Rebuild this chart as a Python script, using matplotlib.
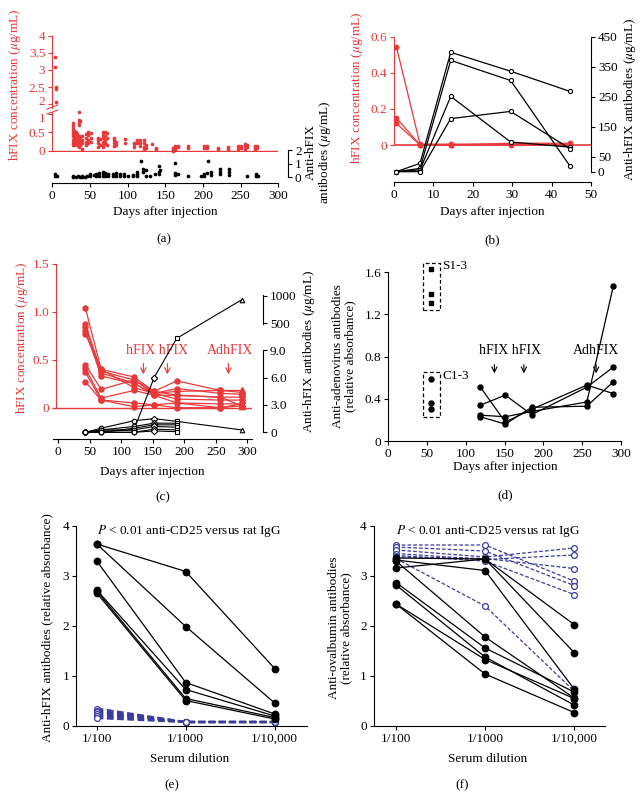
import numpy as np
import matplotlib
matplotlib.use("Agg")
import matplotlib.pyplot as plt
import matplotlib.transforms as mtransforms
from matplotlib.patches import Rectangle
from matplotlib.ticker import NullLocator

plt.rcParams['font.family'] = ['Liberation Serif', 'DejaVu Serif']
plt.rcParams['mathtext.fontset'] = 'stix'
plt.rcParams['font.size'] = 9.5

W, H = 644, 798
RED = '#e8383a'
BLUE = '#3a3d9e'
FS = 9.5

# ---------------- data: panel (a) ----------------
a_red_days = [4, 5, 27, 29, 31, 33, 35, 37, 40, 45, 48, 51, 60, 63, 67, 70, 73,
              82, 85, 97, 108, 112, 117, 122, 125, 133, 137, 160, 163, 167, 180,
              202, 205, 220, 233, 247, 250, 256, 259, 269, 272]
a_red_vals = [[3.37, 3.1], [2.5, 2.45, 2.06],
              [0.75, 0.68, 0.6, 0.5, 0.45, 0.4, 0.3, 0.2, 0.15],
              [0.55, 0.45, 0.35, 0.25, 0.15], [0.5, 0.4, 0.3, 0.2],
              [0.45, 0.35, 0.28, 0.15],
              [1.05, 0.85, 0.78, 0.7, 0.4, 0.3, 0.2, 0.1], [0.82, 0.38, 0.25, 0.15],
              [0.4, 0.3, 0.2, 0.05], [0.45, 0.35, 0.25, 0.15], [0.5, 0.42, 0.3, 0.2],
              [0.48, 0.35, 0.25], [0.35, 0.28, 0.2, 0.1], [0.32, 0.15],
              [0.5, 0.42, 0.35, 0.25, 0.15, 0.1], [0.5, 0.4, 0.3, 0.2], [0.48, 0.35, 0.15],
              [0.35, 0.28, 0.2, 0.12], [0.25, 0.15], [0.32, 0.2], [0.22, 0.18, 0.1],
              [0.28, 0.2], [0.3, 0.22, 0.12], [0.3, 0.2, 0.1, 0.05], [0.15, 0.08],
              [0.18], [0.08, 0.05], [0.08, 0.04, 0.0], [0.12, 0.06, 0.02], [0.14, 0.1],
              [0.12, 0.08], [0.12, 0.08], [0.12, 0.08], [0.08, 0.05], [0.1, 0.06],
              [0.12, 0.06], [0.14, 0.08], [0.18, 0.12, 0.06], [0.16, 0.1],
              [0.14, 0.1, 0.06], [0.12, 0.07]]
a_blk_days = [4, 6, 28, 31, 34, 37, 40, 43, 46, 50, 55, 58, 62, 67, 70, 74, 80, 85,
              90, 95, 100, 107, 112, 118, 120, 125, 130, 136, 142, 143, 163, 167,
              180, 197, 202, 205, 207, 210, 222, 235, 258, 270, 273]
a_blk_vals = [[0.2, 0.1], [0.05], [0.05, 0.0], [0.0], [0.05], [0.0], [0.05, 0.0], [0.0],
              [0.05], [0.2, 0.05], [0.15], [0.2, 0.1], [0.3, 0.1], [0.35, 0.2, 0.05],
              [0.3, 0.1], [0.25, 0.1], [0.2, 0.05], [0.3, 0.1], [0.25, 0.1], [0.2, 0.05],
              [0.1], [0.15, 0.05], [0.35, 0.2, 0.05], [1.2], [0.6, 0.4], [0.5, 0.1],
              [0.1], [0.2], [0.85, 0.4, 0.2], [0.5], [1.05, 0.3, 0.15], [0.2], [0.1],
              [0.1], [0.2, 0.1], [0.3], [1.2], [0.35, 0.15], [0.6, 0.4, 0.2],
              [0.6, 0.35, 0.15], [0.1], [0.2, 0.1], [0.05]]

# ---------------- data: panel (b) ----------------
b_days = [0.6, 6.6, 14.4, 29.6, 44.6]
b_red = [[0.545, 0.005, 0.005, 0.005, 0.005],
         [0.15, 0.0, 0.0, 0.0, 0.0],
         [0.12, 0.0, 0.0, 0.01, 0.01]]
b_blk = [[0, 28, 398, 335, 268],
         [0, 11, 371, 304, 20],
         [0, 6, 251, 99, 82],
         [0, 0, 177, 201, 77]]

# ---------------- data: panel (c) ----------------
c_days = [43, 68, 120, 152, 188, 257, 291]
c_red = [[1.04, 0.40, 0.32, 0.17, 0.13, 0.11, 0.11],
         [0.87, 0.38, 0.29, 0.15, 0.09, 0.08, 0.08],
         [0.84, 0.36, 0.26, 0.13, 0.05, 0.04, 0.04],
         [0.80, 0.33, 0.25, 0.15, 0.17, 0.18, 0.18],
         [0.77, 0.40, 0.21, 0.15, 0.20, 0.15, 0.14],
         [0.45, 0.19, 0.29, 0.17, 0.28, 0.18, 0.16],
         [0.41, 0.10, 0.18, 0.13, 0.13, 0.11, 0.02],
         [0.37, 0.08, 0.05, 0.03, 0.00, 0.00, 0.02],
         [0.27, 0.08, 0.01, 0.03, 0.05, 0.00, 0.04]]
c_blk_days = [43, 68, 120, 152, 188, 291]
c_blk_markers = ['o', 'o', 'o', 'D', 's', '^']
c_blk = [[0, 0.1, 0.26, 6.0, 225, 925],
         [0, 0.45, 1.27, 1.5, 1.2, 0.26],
         [0, 0.26, 0.64, 1.0, 1.0, np.nan],
         [0, 0.0, 0.45, 0.82, 0.82, np.nan],
         [0, 0.26, 0.26, 0.64, 0.56, np.nan],
         [0, 0.0, 0.0, 0.34, 0.26, np.nan],
         [0, 0.0, 0.0, 0.15, 0.07, np.nan]]
c_arrow_days = [135, 173, 270]

# ---------------- data: panel (d) ----------------
d_group_day = 55
d_s_vals = [1.627, 1.395, 1.313]
d_c_vals = [0.586, 0.365, 0.305]
d_days = [119, 151, 185, 256, 290]
d_series = [[0.51, 0.18, 0.30, 0.53, 0.45],
            [0.34, 0.435, 0.25, 0.51, 0.70],
            [0.245, 0.23, 0.28, 0.37, 1.465],
            [0.23, 0.16, 0.32, 0.33, 0.56]]
d_arrow_days = [137, 175, 268]

# ---------------- data: panels (e), (f) ----------------
dilutions = ['1/100', '1/1000', '1/10,000']
e_cd25 = [[3.64, 3.09, 1.15], [3.64, 1.99, 0.46], [3.30, 0.87, 0.24],
          [2.72, 0.73, 0.20], [2.70, 0.55, 0.17], [2.66, 0.51, 0.14]]
e_igg = [[0.35, 0.08, 0.08], [0.31, 0.08, 0.08], [0.28, 0.08, 0.08],
         [0.24, 0.08, 0.08], [0.20, 0.08, 0.08], [0.16, 0.08, 0.08]]
f_cd25 = [[3.36, 3.34, 2.03], [3.16, 3.34, 1.47], [3.32, 3.11, 0.74],
          [3.30, 1.78, 0.56], [2.87, 1.56, 0.68], [2.82, 1.38, 0.42],
          [2.44, 1.33, 0.55], [2.44, 1.04, 0.27]]
f_igg = [[3.62, 3.62, 2.90], [3.58, 3.50, 2.81], [3.52, 3.38, 3.56],
         [3.45, 3.33, 3.42], [3.41, 3.30, 2.63], [3.38, 3.35, 3.15],
         [3.35, 2.40, 0.70]]

fig = plt.figure(figsize=(W / 100, H / 100), dpi=100)


def box(l, t, r, b):
    # axes placed by pixel edges of the target picture
    return fig.add_axes([l / W, 1 - b / H, (r - l) / W, (b - t) / H])


def ftext(x, y, s, **kw):
    kw.setdefault('fontsize', FS)
    fig.text(x / W, 1 - y / H, s, ha='center', va='center', **kw)


def clean(ax, keep=()):
    for k, sp in ax.spines.items():
        sp.set_visible(k in keep)
        sp.set_linewidth(0.8)
    ax.patch.set_visible(False)
    ax.tick_params(length=3, width=0.8, labelsize=FS, pad=2)


def red_axis(ax):
    ax.spines['left'].set_color(RED)
    ax.tick_params(axis='y', colors=RED)


def flat(days, vals):
    xs = [d for d, v in zip(days, vals) for _ in v]
    ys = [y for v in vals for y in v]
    return np.array(xs), np.array(ys)


def nudge(label, dy):
    label.set_transform(label.get_transform() +
                        mtransforms.ScaledTranslation(0, dy / 72, fig.dpi_scale_trans))


# ================= (a) =================
ax_a1 = box(52.3, 30, 278.3, 110)
clean(ax_a1, ('left',))
red_axis(ax_a1)
ax_a1.set_xlim(0, 300)
ax_a1.set_xticks([])
ax_a1.set_ylim(1.834, 4.166)
ax_a1.set_yticks([2, 2.5, 3, 3.5, 4], ['2', '2.5', '3', '3.5', '4'])
ax_a1.spines['left'].set_bounds(1.9, 4)

ax_a2 = box(52.3, 110, 278.3, 152)
clean(ax_a2, ('left',))
red_axis(ax_a2)
ax_a2.set_xlim(0, 300)
ax_a2.set_xticks([])
ax_a2.set_ylim(-0.036, 1.118)
ax_a2.set_yticks([0, 0.5, 1], ['0', '0.5', '1'])
ax_a2.spines['left'].set_bounds(0, 1.06)
ax_a2.axhline(0, color=RED, lw=1.0)
ax_a2.plot([-0.025, 0.025], [1.02, 1.12], transform=ax_a2.transAxes,
           color=RED, lw=0.7, clip_on=False)
ax_a1.plot([-0.025, 0.025], [-0.05, 0.0], transform=ax_a1.transAxes,
           color=RED, lw=0.7, clip_on=False)
fig.canvas.draw()
nudge(ax_a1.get_yticklabels()[0], 2.5)
nudge(ax_a2.get_yticklabels()[-1], -2.0)

rx, ry = flat(a_red_days, a_red_vals)
ax_a1.scatter(rx[ry > 1.5], ry[ry > 1.5], s=7, color=RED, lw=0, clip_on=False)
ax_a2.scatter(rx[ry <= 1.5], ry[ry <= 1.5], s=7, color=RED, lw=0, clip_on=False)

ax_a3 = box(52.3, 148, 278.3, 182.7)
clean(ax_a3, ('bottom', 'right'))
ax_a3.set_xlim(0, 300)
ax_a3.set_xticks(range(0, 301, 50))
ax_a3.set_ylim(-0.42, 2.15)
ax_a3.yaxis.tick_right()
ax_a3.set_yticks([0, 1, 2])
ax_a3.spines['right'].set_position(('outward', 7))
ax_a3.spines['right'].set_bounds(0, 2)
kx, ky = flat(a_blk_days, a_blk_vals)
ax_a3.scatter(kx, ky, s=7, color='black', lw=0)

ftext(15, 85, 'hFIX concentration ($\\mu$g/mL)', rotation=90, color=RED)
ftext(319, 152, 'Anti-hFIX\nantibodies ($\\mu$g/mL)', rotation=90, linespacing=1.0)
ftext(165, 212, 'Days after injection')
ftext(164, 239, '(a)')

# ================= (b) =================
ax_b = box(394, 33, 591, 181.7)
clean(ax_b, ('left', 'bottom'))
red_axis(ax_b)
ax_b.set_xlim(0, 50)
ax_b.set_xticks(range(0, 51, 10))
ax_b.set_ylim(-0.203, 0.62)
ax_b.set_yticks([0, 0.2, 0.4, 0.6], ['0', '0.2', '0.4', '0.6'])
ax_b.spines['left'].set_bounds(0, 0.6)
ax_b.axhline(0, color=RED, lw=1.2)
for s in b_red:
    ax_b.plot(b_days, s, '-o', color=RED, ms=3.2, lw=0.9)

ax_b2 = ax_b.twinx()
clean(ax_b2, ('right',))
ax_b2.set_ylim(-33.3, 462.3)
ax_b2.set_yticks([0, 50, 150, 250, 350, 450])
ax_b2.spines['right'].set_bounds(0, 450)
for s in b_blk:
    ax_b2.plot(b_days, s, '-o', color='black', mfc='white', ms=3, lw=0.9, mew=0.8)

ftext(357, 88, 'hFIX concentration ($\\mu$g/mL)', rotation=90, color=RED)
ftext(630, 100, 'Anti-hFIX antibodies ($\\mu$g/mL)', rotation=90)
ftext(492, 212, 'Days after injection')
ftext(492, 240, '(b)')

# ================= (c) =================
ax_c = box(53, 258, 252, 439.3)
clean(ax_c, ('left', 'bottom'))
red_axis(ax_c)
ax_c.set_xlim(-8.4, 307.4)
ax_c.set_xticks(range(0, 301, 50))
ax_c.set_ylim(-0.329, 1.56)
ax_c.set_yticks([0, 0.5, 1.0, 1.5], ['0', '0.5', '1.0', '1.5'])
ax_c.spines['left'].set_bounds(0, 1.5)
ax_c.spines['left'].set_position(('data', -3.6))
ax_c.axhline(0, color=RED, lw=1.0)
for s in c_red:
    ax_c.plot(c_days, s, color=RED, lw=0.9)
    ax_c.plot(c_days[:-1], s[:-1], 'o', color=RED, ms=3.6)
    ax_c.plot(c_days[-1:], s[-1:], '^', color=RED, ms=3.8)
for d in c_arrow_days:
    ax_c.annotate('', xy=(d, 0.32), xytext=(d, 0.49),
                  arrowprops=dict(arrowstyle='->', color=RED, lw=0.8))
ax_c.text(157, 0.60, 'hFIX hFIX', color=RED, ha='center', va='center', fontsize=FS + 0.5)
ax_c.text(272, 0.60, 'AdhFIX', color=RED, ha='center', va='center', fontsize=FS + 0.5)


def fwd(y):
    y = np.asarray(y, float)
    return np.where(y <= 9, y / 3, np.where(y < 500, 3 + (y - 9) / 491, 4 + (y - 500) / 500))


def inv(u):
    u = np.asarray(u, float)
    return np.where(u <= 3, u * 3, np.where(u < 4, 9 + (u - 3) * 491, 500 + (u - 4) * 500))


ax_c2 = ax_c.twinx()
ax_c3 = ax_c.twinx()
for ax_, ticks, labels, bounds in ((ax_c2, [0, 3, 6, 9], ['0', '3.0', '6.0', '9.0'], (0, 9.3)),
                                   (ax_c3, [500, 1000], ['500', '1000'], (480, 1020))):
    clean(ax_, ('right',))
    ax_.set_yscale('function', functions=(fwd, inv))
    ax_.set_ylim(-0.768, 1690)
    ax_.set_yticks(ticks, labels)
    ax_.yaxis.set_minor_locator(NullLocator())
    ax_.spines['right'].set_position(('outward', 8))
    ax_.spines['right'].set_bounds(*bounds)
for s in c_blk:
    ax_c2.plot(c_blk_days, s, color='black', lw=0.8)
for i, m in enumerate(c_blk_markers):
    col = [s[i] for s in c_blk]
    ax_c2.plot([c_blk_days[i]] * len(col), col, m, color='black', mfc='white',
               ms=3.3, mew=0.8)

ftext(22, 338, 'hFIX concentration ($\\mu$g/mL)', rotation=90, color=RED)
ftext(309, 352, 'Anti-hFIX antibodies ($\\mu$g/mL)', rotation=90)
ftext(152, 472, 'Days after injection')
ftext(163, 497, '(c)')

# ================= (d) =================
ax_d = box(388, 261.7, 621, 441)
clean(ax_d, ('left', 'bottom'))
ax_d.set_xlim(0, 300)
ax_d.set_xticks(range(0, 301, 50))
ax_d.set_ylim(0, 1.7)
ax_d.set_yticks([0, 0.4, 0.8, 1.2, 1.6], ['0', '0.4', '0.8', '1.2', '1.6'])
ax_d.spines['left'].set_bounds(0, 1.6)
ax_d.plot([d_group_day] * 3, d_s_vals, 's', color='black', ms=3.4)
ax_d.plot([d_group_day] * 3, d_c_vals, 'o', color='black', ms=3.6)
for vals, name in ((d_s_vals, 'S1-3'), (d_c_vals, 'C1-3')):
    lo, hi = min(vals) - 0.075, max(vals) + 0.065
    ax_d.add_patch(Rectangle((d_group_day - 10.3, lo), 22.6, hi - lo, fill=False,
                             ls=(0, (3, 2)), lw=0.9, color='black', clip_on=False))
    ax_d.text(d_group_day + 15, hi - 0.03, name, ha='left', va='center', fontsize=FS)
for s in d_series:
    ax_d.plot(d_days, s, '-o', color='black', ms=3.6, lw=0.9)
for d in d_arrow_days:
    ax_d.annotate('', xy=(d, 0.615), xytext=(d, 0.75),
                  arrowprops=dict(arrowstyle='->', color='black', lw=0.8))
ax_d.text(156.5, 0.855, 'hFIX hFIX', ha='center', va='center', fontsize=FS + 0.5)
ax_d.text(268, 0.855, 'AdhFIX', ha='center', va='center', fontsize=FS + 0.5)

ftext(344, 356, 'Anti-adenovirus antibodies\n(relative absorbance)', rotation=90,
      linespacing=1.0)
ftext(505, 467, 'Days after injection')
ftext(505, 495, '(d)')

# ================= (e), (f) =================
for rect, cd25, igg, xl, ylab, ylx, xc, tag, tagx, dash_lw in (
        ((76, 524, 306.7, 726), e_cd25, e_igg, (-0.233, 2.36),
         'Anti-hFIX antibodies (relative absorbance)', 47, 190, '(e)', 172, 1.6),
        ((373.7, 524, 605.3, 726), f_cd25, f_igg, (-0.25, 2.35),
         'Anti-ovalbumin antibodies\n(relative absorbance)', 340, 488, '(f)', 462, 0.9)):
    ax = box(*rect)
    clean(ax, ('left', 'bottom'))
    ax.set_xlim(*xl)
    ax.set_ylim(0, 4.04)
    ax.set_xticks(range(len(dilutions)), dilutions)
    ax.set_yticks([0, 1, 2, 3, 4])
    ax.spines['left'].set_bounds(0, 4)
    xs = range(len(dilutions))
    for s in igg:
        ax.plot(xs, s, ls=(0, (3, 1.6)), color=BLUE, lw=dash_lw, marker='o',
                mfc='white', mec=BLUE, ms=4.2, mew=0.9)
    for s in cd25:
        ax.plot(xs, s, '-o', color='black', ms=4.6, lw=0.9)
    ax.text(0, 3.9, '$P$ < 0.01 anti-CD25 versus rat IgG', ha='left', va='center',
            fontsize=FS)
    ftext(ylx, 628, ylab, rotation=90, linespacing=1.0)
    ftext(xc, 759, 'Serum dilution')
    ftext(tagx, 785, tag)

fig.savefig('out.png', dpi=100)
